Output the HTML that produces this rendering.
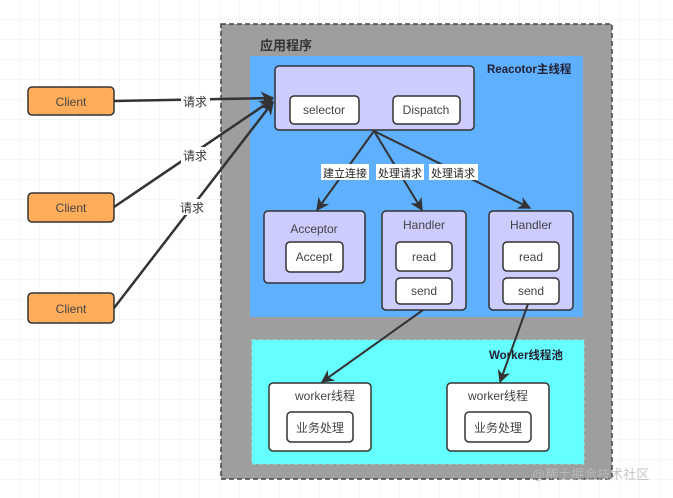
<!DOCTYPE html>
<html><head><meta charset="utf-8"><style>
html,body{margin:0;padding:0;background:#fff}
svg{display:block}
text{font-family:"Liberation Sans","Noto Sans CJK SC",sans-serif}
</style></head><body>
<svg width="673" height="498" viewBox="0 0 673 498" xmlns="http://www.w3.org/2000/svg">
<defs>
<pattern id="g" width="20" height="20" patternUnits="userSpaceOnUse">
<path d="M20 0V20H0" fill="none" stroke="#ededed" stroke-width="1"/>
</pattern>
<marker id="a" viewBox="0 0 10 10" refX="9" refY="5" markerWidth="5.5" markerHeight="5.5" orient="auto">
<path d="M0 0L10 5L0 10L3 5z" fill="#333"/>
</marker>
<marker id="b" viewBox="0 0 10 10" refX="9" refY="5" markerWidth="6.5" markerHeight="6.5" orient="auto">
<path d="M0 0L10 5L0 10L3 5z" fill="#333"/>
</marker>
</defs>
<rect width="673" height="498" fill="url(#g)"/>
<rect x="221" y="24" width="391" height="455" fill="#9e9e9e" stroke="#444" stroke-width="1.5" stroke-dasharray="5,3"/>
<text x="260" y="50" font-size="13" font-weight="bold" fill="#333">应用程序</text>
<rect x="250" y="56" width="333" height="261" fill="#5fb0ff"/>
<text x="487" y="73" font-size="11.5" font-weight="bold" fill="#223">Reacotor主线程</text>
<rect x="252" y="340" width="332" height="124" fill="#66ffff" stroke="#8ee" stroke-dasharray="4,3"/>
<text x="489" y="359" font-size="11.5" font-weight="bold" fill="#223">Worker线程池</text>

<g stroke="#333" stroke-width="1.5">
<rect x="275" y="66" width="199" height="64" rx="4" fill="#ccccff"/>
<rect x="290" y="96" width="69" height="28" rx="4" fill="#fff"/>
<rect x="393" y="96" width="67" height="28" rx="4" fill="#fff"/>
<rect x="264" y="211" width="101" height="72" rx="4" fill="#ccccff"/>
<rect x="286" y="242" width="57" height="30" rx="4" fill="#fff"/>
<rect x="382" y="211" width="84" height="99" rx="4" fill="#ccccff"/>
<rect x="396" y="242" width="56" height="29" rx="4" fill="#fff"/>
<rect x="396" y="278" width="56" height="26" rx="4" fill="#fff"/>
<rect x="489" y="211" width="84" height="99" rx="4" fill="#ccccff"/>
<rect x="503" y="242" width="56" height="29" rx="4" fill="#fff"/>
<rect x="503" y="278" width="56" height="26" rx="4" fill="#fff"/>
<rect x="269" y="383" width="102" height="68" rx="4" fill="#fff"/>
<rect x="287" y="412" width="66" height="30" rx="4" fill="#fff"/>
<rect x="447" y="383" width="102" height="68" rx="4" fill="#fff"/>
<rect x="465" y="412" width="66" height="30" rx="4" fill="#fff"/>
<rect x="28" y="87" width="86" height="28" rx="4" fill="#ffad5b"/>
<rect x="28" y="193" width="86" height="29" rx="4" fill="#ffad5b"/>
<rect x="28" y="293" width="86" height="30" rx="4" fill="#ffad5b"/>
</g>

<g font-size="12" fill="#444" text-anchor="middle">
<text x="324" y="114">selector</text>
<text x="426" y="114">Dispatch</text>
<text x="314" y="233">Acceptor</text>
<text x="314" y="261">Accept</text>
<text x="424" y="229">Handler</text>
<text x="424" y="261">read</text>
<text x="424" y="295">send</text>
<text x="531" y="229">Handler</text>
<text x="531" y="261">read</text>
<text x="531" y="295">send</text>
<text x="325" y="400">worker线程</text>
<text x="320" y="432">业务处理</text>
<text x="498" y="400">worker线程</text>
<text x="498" y="432">业务处理</text>
<text x="71" y="106">Client</text>
<text x="71" y="212">Client</text>
<text x="71" y="313">Client</text>
</g>

<g stroke="#333" stroke-width="2.5" fill="none" marker-end="url(#a)">
<line x1="114" y1="101" x2="273" y2="98"/>
<line x1="114" y1="207" x2="272" y2="100"/>
<line x1="114" y1="308" x2="273" y2="102"/>
</g>
<g stroke="#333" stroke-width="2" fill="none" marker-end="url(#b)">
<line x1="374" y1="131" x2="317" y2="210"/>
<line x1="374" y1="131" x2="422" y2="210"/>
<line x1="374" y1="131" x2="530" y2="208"/>
<line x1="423" y1="310" x2="322" y2="382"/>
<line x1="528" y1="304" x2="500" y2="382"/>
</g>

<g font-size="12" fill="#333" text-anchor="middle">
<rect x="181" y="93" width="29" height="16" fill="#fff"/><text x="195" y="106">请求</text>
<rect x="181" y="147" width="29" height="16" fill="#fff"/><text x="195" y="160">请求</text>
<rect x="178" y="199" width="29" height="16" fill="#fff"/><text x="192" y="212">请求</text>
</g>
<g font-size="11" fill="#222" text-anchor="middle">
<rect x="321" y="164" width="48" height="16" fill="#fff"/><text x="345" y="177">建立连接</text>
<rect x="376" y="164" width="48" height="16" fill="#fff"/><text x="400" y="177">处理请求</text>
<rect x="429" y="164" width="49" height="16" fill="#fff"/><text x="453" y="177">处理请求</text>
</g>
<text x="532" y="479" font-size="13" fill="#bbb" fill-opacity="0.85">@稀土掘金技术社区</text>
</svg>
</body></html>
